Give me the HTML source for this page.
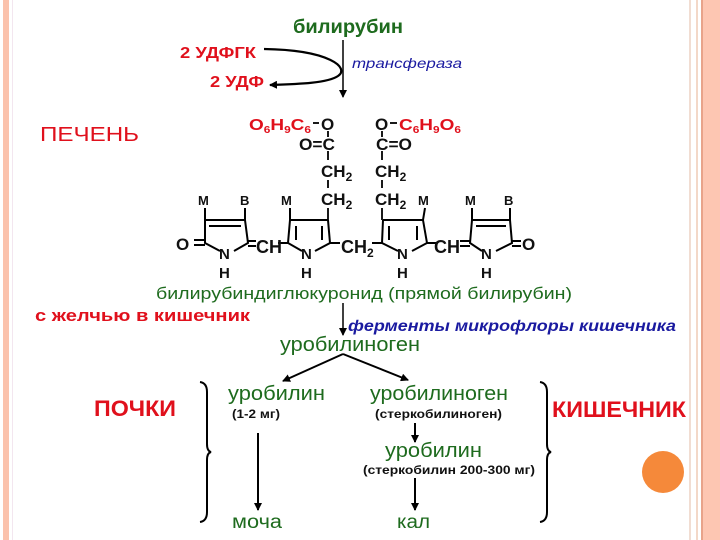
<!DOCTYPE html>
<html><head><meta charset="utf-8"><style>
html,body{margin:0;padding:0;background:#fff;}
svg{display:block;}
text{font-family:"Liberation Sans",sans-serif;}
</style></head><body>
<svg width="720" height="540" viewBox="0 0 720 540" xmlns="http://www.w3.org/2000/svg">
<defs>
<marker id="a" markerWidth="8" markerHeight="8" refX="7" refY="4" orient="auto" markerUnits="userSpaceOnUse">
<path d="M0,0 L8,4 L0,8 z" fill="#000"/></marker>
</defs>
<rect x="3" y="0" width="6" height="540" fill="#fbc2ac"/>
<rect x="12" y="0" width="1" height="540" fill="#f3e6ef"/>
<rect x="689" y="0" width="2" height="540" fill="#f1ddd2"/>
<rect x="696" y="0" width="2" height="540" fill="#f3d8c8"/>
<rect x="701" y="0" width="2" height="540" fill="#e8a38a"/>
<rect x="703" y="0" width="17" height="540" fill="#fdc6b2"/>

<g font-weight="bold">
<text x="293" y="33" font-size="19" fill="#1e6b1e" textLength="110" lengthAdjust="spacingAndGlyphs">билирубин</text>
<line x1="343" y1="40" x2="343" y2="97" stroke="#000" stroke-width="1.5" marker-end="url(#a)"/>
<text x="180" y="58" font-size="16" fill="#e0101c" textLength="76" lengthAdjust="spacingAndGlyphs">2 УДФГК</text>
<text x="210" y="87" font-size="16" fill="#e0101c" textLength="54" lengthAdjust="spacingAndGlyphs">2 УДФ</text>
<path d="M264,49 C330,50 350,68 338,76 C328,83 300,84 270,85" fill="none" stroke="#000" stroke-width="2.2" marker-end="url(#a)"/>
<text x="352" y="68" font-size="14" font-style="italic" fill="#1a1aa0" font-weight="normal" textLength="110" lengthAdjust="spacingAndGlyphs">трансфераза</text>
<text x="40" y="141" font-size="20" fill="#e0101c" font-weight="normal" textLength="99" lengthAdjust="spacingAndGlyphs">ПЕЧЕНЬ</text>

<g font-size="17" fill="#111">
<text x="249" y="130" fill="#e0101c" font-size="16" textLength="62" lengthAdjust="spacingAndGlyphs">O<tspan font-size="10" dy="3">6</tspan><tspan dy="-3">H</tspan><tspan font-size="10" dy="3">9</tspan><tspan dy="-3">C</tspan><tspan font-size="10" dy="3">6</tspan></text>
<text x="321" y="130">O</text>
<line x1="313" y1="123" x2="319" y2="123" stroke="#000" stroke-width="1.8"/>
<text x="375" y="130">O</text>
<line x1="390" y1="123" x2="397" y2="123" stroke="#000" stroke-width="1.8"/>
<text x="399" y="130" fill="#e0101c" font-size="16" textLength="62" lengthAdjust="spacingAndGlyphs">C<tspan font-size="10" dy="3">6</tspan><tspan dy="-3">H</tspan><tspan font-size="10" dy="3">9</tspan><tspan dy="-3">O</tspan><tspan font-size="10" dy="3">6</tspan></text>
<text x="299" y="150" textLength="36" lengthAdjust="spacingAndGlyphs">O=C</text>
<text x="376" y="150" textLength="36" lengthAdjust="spacingAndGlyphs">C=O</text>
<line x1="328" y1="131" x2="328" y2="137" stroke="#000" stroke-width="1.8"/>
<line x1="382" y1="131" x2="382" y2="137" stroke="#000" stroke-width="1.8"/>
<line x1="328" y1="151" x2="328" y2="160" stroke="#000" stroke-width="1.8"/>
<line x1="382" y1="151" x2="382" y2="160" stroke="#000" stroke-width="1.8"/>
<text x="321" y="177">CH<tspan font-size="12" dy="4">2</tspan></text>
<text x="375" y="177">CH<tspan font-size="12" dy="4">2</tspan></text>
<line x1="328" y1="180" x2="328" y2="188" stroke="#000" stroke-width="1.8"/>
<line x1="382" y1="180" x2="382" y2="188" stroke="#000" stroke-width="1.8"/>
<text x="321" y="205">CH<tspan font-size="12" dy="4">2</tspan></text>
<text x="375" y="205">CH<tspan font-size="12" dy="4">2</tspan></text>
<line x1="328" y1="208" x2="328" y2="220" stroke="#000" stroke-width="1.8"/>
<line x1="382" y1="208" x2="382" y2="220" stroke="#000" stroke-width="1.8"/>

<g font-size="13">
<text x="198" y="205">M</text><text x="240" y="205">B</text>
<text x="281" y="205">M</text>
<text x="418" y="205">M</text>
<text x="465" y="205">M</text><text x="504" y="205">B</text>
</g>
<g stroke="#000" stroke-width="2" fill="none">
<path d="M205,208 L205,243 L220,251 M234,251 L248,243 L245,220 L245,208"/>
<path d="M205,220 L245,220 M209,226 L241,226"/>
<path d="M194,240 L205,240 M194,245 L205,245"/>
<path d="M248,241 L256,241 M248,246 L256,246"/>
<path d="M290,208 L290,220 L288,243 L302,251 M315,251 L330,243 L328,220"/>
<path d="M290,220 L328,220 M296,226 L296,240 M322,226 L322,240"/>
<path d="M278,243 L288,243"/>
<path d="M330,243 L340,243"/>
<path d="M383,220 L382,243 L398,251 M412,251 L427,243 L423,220 L425,208"/>
<path d="M383,220 L423,220 M389,226 L389,240 M417,226 L417,240"/>
<path d="M372,243 L382,243"/>
<path d="M427,243 L436,243"/>
<path d="M472,208 L472,220 L470,243 L482,251 M496,251 L512,243 L510,220 L510,208"/>
<path d="M472,220 L510,220 M476,226 L506,226"/>
<path d="M460,241 L470,241 M460,246 L470,246"/>
<path d="M512,241 L521,241 M512,246 L521,246"/>
</g>
<text x="176" y="250">O</text>
<text x="219" y="259" font-size="15">N</text><text x="219" y="278" font-size="15">H</text>
<text x="256" y="253" font-size="18">CH</text>
<text x="301" y="259" font-size="15">N</text><text x="301" y="278" font-size="15">H</text>
<text x="341" y="253" font-size="18">CH<tspan font-size="12" dy="4">2</tspan></text>
<text x="397" y="259" font-size="15">N</text><text x="397" y="278" font-size="15">H</text>
<text x="434" y="253" font-size="18">CH</text>
<text x="481" y="259" font-size="15">N</text><text x="481" y="278" font-size="15">H</text>
<text x="522" y="250">O</text>
</g>

<text x="156" y="299" font-size="17" fill="#1e6b1e" font-weight="normal" textLength="416" lengthAdjust="spacingAndGlyphs">билирубиндиглюкуронид (прямой билирубин)</text>
<text x="35" y="321" font-size="17" fill="#e0101c" textLength="215" lengthAdjust="spacingAndGlyphs">с желчью в кишечник</text>
<line x1="343" y1="303" x2="343" y2="335" stroke="#000" stroke-width="1.5" marker-end="url(#a)"/>
<text x="348" y="331" font-size="16" fill="#1a1aa0" font-style="italic" textLength="328" lengthAdjust="spacingAndGlyphs">ферменты микрофлоры кишечника</text>
<text x="280" y="351" font-size="20" fill="#1e6b1e" font-weight="normal" textLength="140" lengthAdjust="spacingAndGlyphs">уробилиноген</text>
<line x1="343" y1="354" x2="283" y2="381" stroke="#000" stroke-width="2" marker-end="url(#a)"/>
<line x1="343" y1="354" x2="408" y2="380" stroke="#000" stroke-width="2" marker-end="url(#a)"/>

<path d="M200,382 Q207,383 207,392 L207,444 Q207,451 211,452 Q207,453 207,460 L207,512 Q207,521 200,522" fill="none" stroke="#000" stroke-width="2"/>
<path d="M540,382 Q547,383 547,392 L547,444 Q547,451 551,452 Q547,453 547,460 L547,512 Q547,521 540,522" fill="none" stroke="#000" stroke-width="2"/>
<text x="94" y="416" font-size="22" fill="#e0101c" textLength="82" lengthAdjust="spacingAndGlyphs">ПОЧКИ</text>
<text x="552" y="417" font-size="22" fill="#e0101c" textLength="134" lengthAdjust="spacingAndGlyphs">КИШЕЧНИК</text>
<text x="228" y="400" font-size="20" fill="#1e6b1e" font-weight="normal" textLength="97" lengthAdjust="spacingAndGlyphs">уробилин</text>
<text x="232" y="418" font-size="12" fill="#111" textLength="48" lengthAdjust="spacingAndGlyphs">(1-2 мг)</text>
<text x="370" y="400" font-size="20" fill="#1e6b1e" font-weight="normal" textLength="138" lengthAdjust="spacingAndGlyphs">уробилиноген</text>
<text x="375" y="418" font-size="12" fill="#111" textLength="127" lengthAdjust="spacingAndGlyphs">(стеркобилиноген)</text>
<line x1="415" y1="423" x2="415" y2="442" stroke="#000" stroke-width="2" marker-end="url(#a)"/>
<text x="385" y="457" font-size="20" fill="#1e6b1e" font-weight="normal" textLength="97" lengthAdjust="spacingAndGlyphs">уробилин</text>
<text x="363" y="474" font-size="12" fill="#111" textLength="172" lengthAdjust="spacingAndGlyphs">(стеркобилин 200-300 мг)</text>
<line x1="258" y1="433" x2="258" y2="510" stroke="#000" stroke-width="2" marker-end="url(#a)"/>
<line x1="415" y1="478" x2="415" y2="510" stroke="#000" stroke-width="2" marker-end="url(#a)"/>
<text x="232" y="528" font-size="19" fill="#1e6b1e" font-weight="normal" textLength="50" lengthAdjust="spacingAndGlyphs">моча</text>
<text x="397" y="528" font-size="19" fill="#1e6b1e" font-weight="normal" textLength="33" lengthAdjust="spacingAndGlyphs">кал</text>
</g>
<circle cx="663" cy="472" r="21" fill="#f5893a"/>
</svg>
</body></html>
